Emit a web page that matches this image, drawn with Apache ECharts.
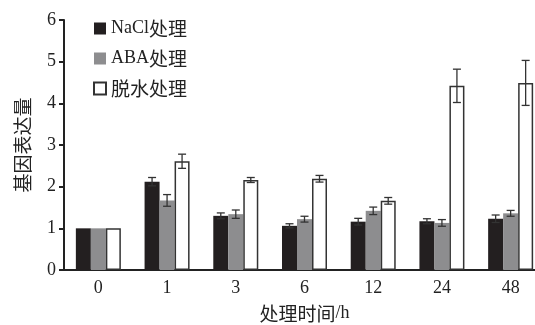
<!DOCTYPE html>
<html><head><meta charset="utf-8">
<script src="https://cdn.jsdelivr.net/npm/echarts@6/dist/echarts.min.js"></script>
<style>html,body{margin:0;padding:0;background:#fff}#c{width:535px;height:325px}</style>
</head><body><div id="c"></div>
<script>
const categories = ['0','1','3','6','12','24','48'];
const seriesNames = ['NaCl处理','ABA处理','脱水处理'];
const naclValues = [1.0, 2.12, 1.30, 1.06, 1.16, 1.17, 1.23];
const naclErrors = [0, 0.10, 0.07, 0.05, 0.08, 0.06, 0.09];
const abaValues = [1.0, 1.67, 1.34, 1.22, 1.42, 1.13, 1.36];
const abaErrors = [0, 0.14, 0.10, 0.07, 0.09, 0.08, 0.07];
const dehydValues = [1.0, 2.61, 2.16, 2.19, 1.66, 4.42, 4.49];
const dehydErrors = [0, 0.17, 0.06, 0.08, 0.08, 0.40, 0.54];

const FONT = "'Liberation Serif','Noto Sans CJK SC',serif";
const BW = 15;
const rich = {
  l: {fontFamily: FONT, fontSize: 18, color: '#222'},
  c: {fontFamily: "'Noto Sans CJK SC',serif", fontSize: 19, color: '#222'}
};
function toRich(s) {
  const runs = s.match(/[\u4e00-\u9fff]+|[^\u4e00-\u9fff]+/g) || [];
  return runs.map(r => (/[\u4e00-\u9fff]/.test(r) ? '{c|' : '{l|') + r + '}').join('');
}
const chart = echarts.init(document.getElementById('c'));

function errSeries(vals, errs, offset) {
  return {
    type: 'custom', z: 10, silent: true,
    data: vals.map((v, i) => [i, v, errs[i]]),
    renderItem: function (params, api) {
      const i = api.value(0), v = api.value(1), e = api.value(2);
      if (!e) return null;
      const top = api.coord([i, v + e]);
      const bot = api.coord([i, v - e]);
      const x = top[0] + offset;
      const s = {stroke: '#333', lineWidth: 1.3};
      return {type: 'group', children: [
        {type: 'line', shape: {x1: x, y1: top[1], x2: x, y2: bot[1]}, style: s},
        {type: 'line', shape: {x1: x - 4, y1: top[1], x2: x + 4, y2: top[1]}, style: s},
        {type: 'line', shape: {x1: x - 4, y1: bot[1], x2: x + 4, y2: bot[1]}, style: s}
      ]};
    }
  };
}

chart.setOption({
  animation: false,
  grid: {left: 64, top: 20, width: 481, height: 250, containLabel: false, outerBoundsMode: 'none'},
  legend: {
    orient: 'vertical', left: 88, top: 14, itemWidth: 12, itemHeight: 12, itemGap: 11,
    icon: 'rect',
    formatter: n => toRich(n),
    textStyle: {fontFamily: FONT, fontSize: 18, color: '#222', rich: rich},
    data: seriesNames
  },
  xAxis: {
    type: 'category', data: categories,
    axisLine: {lineStyle: {color: '#222', width: 2}},
    axisTick: {show: false},
    axisLabel: {fontFamily: FONT, fontSize: 18, color: '#222', margin: 9},
    name: toRich('处理时间/h'), nameLocation: 'middle', nameGap: 34,
    nameTextStyle: {fontFamily: FONT, fontSize: 18, color: '#222', rich: rich}
  },
  yAxis: {
    type: 'value', min: 0, max: 6, interval: 1,
    axisLine: {show: true, lineStyle: {color: '#222', width: 2}},
    axisTick: {show: true, length: 5, lineStyle: {color: '#222', width: 2}},
    splitLine: {show: false},
    axisLabel: {fontFamily: FONT, fontSize: 18, color: '#222', margin: 8},
    name: toRich('基因表达量'), nameLocation: 'middle', nameGap: 32,
    nameTextStyle: {fontFamily: FONT, fontSize: 19, color: '#222', rich: rich}
  },
  series: [
    {name: seriesNames[0], type: 'bar', data: naclValues, barWidth: BW, barGap: '0%',
     itemStyle: {color: '#231f20', borderColor: '#231f20', borderWidth: 0}},
    {name: seriesNames[1], type: 'bar', data: abaValues, barWidth: BW, barGap: '0%',
     itemStyle: {color: '#8d8d8f', borderWidth: 0}},
    {name: seriesNames[2], type: 'bar', data: dehydValues, barWidth: BW, barGap: '0%',
     itemStyle: {color: '#ffffff', borderColor: '#333', borderWidth: 1.5}},
    errSeries(naclValues, naclErrors, -BW),
    errSeries(abaValues, abaErrors, 0),
    errSeries(dehydValues, dehydErrors, BW)
  ]
});
</script></body></html>
